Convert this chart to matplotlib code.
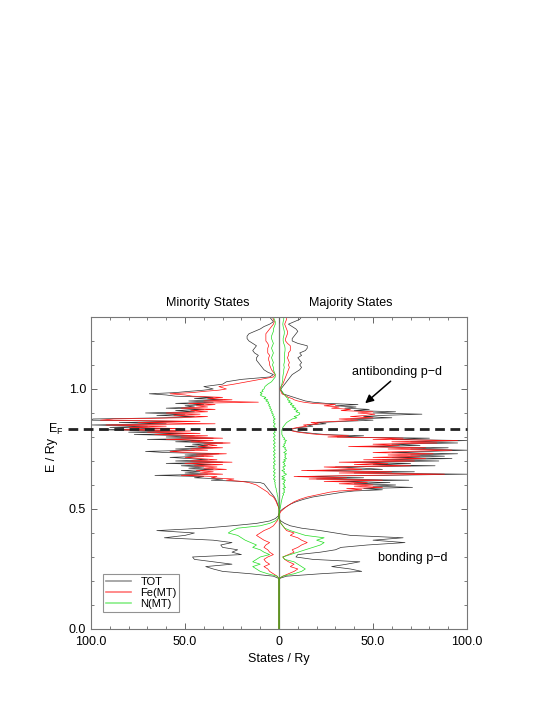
import numpy as np
import matplotlib
matplotlib.use("Agg")
import matplotlib.pyplot as plt

plt.rcParams["font.family"] = ["Liberation Sans", "DejaVu Sans"]

# === Energy grid (Ry): coarse below / above the d band, fine inside it ===
E = np.round(np.concatenate([[0.0],
                             np.arange(0.20, 0.5551, 0.01),
                             np.arange(0.555, 0.9951, 0.005),
                             np.arange(1.00, 1.3001, 0.01)]), 3)

E_FERMI = 0.833

# === DOS values (states/Ry) ===
# majority (spin up), drawn to the right
tot_up = [
    0,
    0, 0, 4, 22, 44, 38, 28, 36, 43, 18,
    9, 10, 22, 30, 33, 47, 67, 50, 66, 38,
    30, 22, 12, 6, 3, 1, 0, 0, 0, 0.5,
    2, 4, 6, 9, 13, 18,
    # fine part 0.555 - 0.995
    22, 26, 30, 34, 40, 55, 45, 71, 50, 62,
    40, 59, 30, 69, 20, 45, 10, 56, 100, 40,
    72, 15, 55, 45, 30, 83, 50, 70, 40, 85,
    55, 92, 60, 88, 70, 95, 60, 80, 100, 70,
    90, 45, 75, 60, 95, 70, 100, 60, 80, 31,
    45, 25, 18, 12, 8, 6, 8, 12, 18, 15,
    25, 20, 35, 50, 38, 60, 45, 55, 76, 50,
    62, 40, 48, 35, 41, 30, 42, 25, 18, 14,
    12, 10, 8, 6, 4, 2, 2, 1.5, 1,
    # 1.00 - 1.30
    1, 2, 3, 4, 5, 6, 7, 9, 11, 12,
    11, 12, 11, 10, 12, 11, 14, 15, 15, 10,
    7, 7, 8, 9, 10, 9, 7, 5, 8, 11,
    12]
fe_up = [
    0,
    0, 0, 2, 5, 8, 10, 6, 8, 5, 3,
    2, 5, 8, 7, 10, 12, 15, 12, 10, 6,
    8, 4, 3, 2, 1, 0.5, 0, 0, 0.3, 1,
    2.5, 4, 6, 8, 11, 15,
    18, 21, 24, 27, 32, 44, 36, 55, 40, 50,
    32, 47, 24, 55, 16, 36, 8, 45, 88, 32,
    60, 12, 44, 36, 24, 70, 40, 58, 32, 72,
    45, 78, 50, 75, 58, 82, 50, 68, 92, 58,
    78, 37, 64, 50, 84, 60, 95, 50, 66, 26,
    37, 21, 15, 10, 7, 6, 7, 10, 15, 13,
    21, 17, 30, 42, 32, 50, 38, 46, 51, 42,
    50, 33, 38, 28, 32, 24, 30, 18, 13, 10,
    8, 7, 5, 4, 3, 1.5, 1.5, 1, 0.8,
    0.5, 1, 2, 2.5, 3, 3.5, 4, 4.5, 5, 5.5,
    5, 5.5, 5, 4.5, 5, 5, 6, 6, 6, 4.5,
    3.5, 3.5, 4, 4.5, 4.5, 4, 3.5, 3, 3.5, 4,
    4]
n_up = [
    0,
    0, 0, 2, 8, 12, 14, 12, 10, 8, 3,
    2, 6, 10, 14, 18, 22, 24, 20, 24, 14,
    10, 6, 3, 2, 1, 0.5, 0, 0, 0, 0.3,
    0.5, 0.8, 1, 1.2, 1.5, 1.8,
    2, 2.5, 2, 3, 2.5, 3, 2, 3.5, 2.5, 3,
    2, 3, 2.5, 3.5, 1.5, 3, 1.5, 3, 4, 2.5,
    3, 1.5, 3, 2.5, 2, 3.5, 2.5, 3, 2, 3.5,
    2.5, 4, 3, 3.5, 3, 4, 2.5, 3.5, 4, 3,
    3.5, 2, 3, 2.5, 3.5, 3, 4, 2.5, 3, 2,
    2, 1.5, 1.5, 1.5, 1.5, 1.5, 2, 2, 2.5, 3,
    3.5, 4, 5, 6, 7, 9.5, 8, 10, 11, 11,
    9, 10, 8, 9, 7, 8, 6, 7, 5, 6,
    4.5, 5, 4, 3.5, 3, 2.5, 2, 1.5, 1,
    1, 1.2, 1.5, 1.8, 2, 2, 2.2, 2.5, 2.5, 2.8,
    2.5, 2.8, 3, 2.8, 3, 3, 3.2, 3.2, 3, 2.5,
    2.2, 2.2, 2.5, 2.8, 2.8, 2.5, 2.2, 2, 2.2, 2.5,
    2.5]

# minority (spin down), drawn to the left
tot_dn = [
    0,
    0, 0, 3, 15, 30, 35, 39, 25, 35, 45,
    46, 20, 25, 22, 30, 31, 25, 35, 61, 50,
    45, 65, 40, 25, 12, 5, 2, 0.5, 0, 0,
    0, 0.3, 0.8, 1.2, 1.8, 2.5,
    3, 3.5, 4, 4.5, 5, 5.5, 6, 6.5, 7, 7.5,
    8, 10, 20, 36, 30, 45, 40, 66, 38, 50,
    42, 52, 35, 48, 40, 52, 36, 60, 30, 55,
    38, 48, 58, 40, 50, 32, 60, 71, 45, 55,
    35, 50, 38, 46, 30, 55, 40, 70, 35, 60,
    45, 77, 50, 80, 55, 95, 60, 90, 70, 100,
    60, 85, 50, 100, 99, 60, 45, 65, 50, 71,
    45, 55, 40, 60, 45, 50, 40, 55, 35, 48,
    30, 45, 35, 55, 60, 69, 55, 48, 40,
    35, 40, 30, 28, 20, 5, 3, 6, 8, 9,
    10, 11, 12, 12, 11, 13, 14, 13, 12, 14,
    16, 17, 17, 16, 13, 10, 8, 5, 3, 4,
    5]
fe_dn = [
    0,
    0, 0, 1, 3, 5, 6, 8, 5, 7, 8,
    6, 3, 5, 6, 8, 7, 5, 8, 10, 12,
    10, 8, 5, 3, 2, 1, 0.5, 0.2, 0, 0,
    0, 0.4, 1, 1.5, 2.2, 3,
    4, 5, 5.5, 6, 7, 8, 9, 10, 11, 12,
    14, 16, 20, 28, 24, 36, 33, 52, 30, 42,
    35, 44, 28, 40, 33, 45, 30, 50, 25, 47,
    33, 42, 50, 35, 44, 28, 50, 58, 38, 47,
    30, 43, 33, 40, 26, 47, 35, 60, 30, 52,
    38, 66, 42, 70, 47, 85, 52, 80, 60, 92,
    34, 75, 42, 95, 88, 52, 38, 56, 42, 60,
    38, 47, 34, 52, 38, 44, 34, 48, 11, 40,
    25, 38, 30, 46, 50, 58, 46, 40, 32,
    28, 32, 24, 17, 10, 3, 2, 3, 4, 4.5,
    5, 5, 5.5, 5.5, 5, 6, 6, 6, 5.5, 6,
    7, 7, 7, 7, 6, 5, 4, 3, 2.5, 3,
    3.5]
n_dn = [
    0,
    0, 0, 1, 6, 10, 12, 14, 10, 14, 12,
    10, 5, 8, 10, 14, 12, 15, 18, 20, 22,
    27, 25, 22, 10, 5, 2, 0.5, 0, 0, 0,
    0, 0.1, 0.2, 0.4, 0.5, 0.6,
    0.8, 1, 1, 1.2, 1.3, 1.5, 1.5, 1.8, 2, 2,
    2.2, 2, 2.5, 2, 3, 2.5, 2, 3, 2.5, 2,
    3, 2.5, 2, 3, 2.5, 3, 2, 2.5, 3, 2,
    2.5, 3, 2, 2.5, 3, 2, 2.5, 3, 2, 2.5,
    3, 2, 2.5, 3, 2, 2.5, 3, 2, 2.5, 3,
    2, 2.5, 3, 2, 2.5, 3, 2.5, 2, 3, 2.5,
    2, 3, 2.5, 3, 2, 3, 2.5, 3.5, 3, 4,
    3.5, 4.5, 4, 5, 4.5, 5.5, 5, 6, 5.5, 7,
    6, 8, 7, 9, 10, 9, 10, 8.5, 9,
    8, 7.5, 6, 4, 3, 2, 2, 2.5, 3, 3,
    3.5, 3, 3.5, 4, 3.5, 3, 3.5, 4, 3.5, 3,
    3.5, 4, 4, 3.5, 3, 3, 2.5, 2, 2, 2.5,
    3]

series = [("TOT", tot_up, tot_dn, "#333333"),
          ("Fe(MT)", fe_up, fe_dn, "#ff1010"),
          ("N(MT)", n_up, n_dn, "#22dd22")]

fig = plt.figure(figsize=(5.47, 7.08), dpi=100)
ax = fig.add_axes([0.1664, 0.1116, 0.6874, 0.4407])

# zero line sits under the curves (green N curve covers it below the bands)
ax.axvline(0, color="#777777", lw=0.9, zorder=1)

for name, up, dn, col in series:
    ax.plot(np.asarray(up), E, color=col, lw=0.5, label=name, zorder=2)
    ax.plot(-np.asarray(dn), E, color=col, lw=0.5, zorder=2)

# Fermi level, running out past the left spine
ax.plot([-112, 100], [E_FERMI, E_FERMI], color="#222222", lw=2,
        dashes=(3.5, 2), clip_on=False, zorder=5)
ax.text(-114.5, E_FERMI, "E$_\\mathregular{F}$", ha="right", va="center",
        fontsize=9)

ax.set_xlim(-100, 100)
ax.set_ylim(0, 1.3)
ax.set_xticks([-100, -50, 0, 50, 100])
ax.set_xticklabels(["100.0", "50.0", "0", "50.0", "100.0"])
ax.set_xticks(np.arange(-100, 101, 10), minor=True)
ax.set_yticks([0, 0.5, 1.0])
ax.set_yticklabels(["0.0", "0.5", "1.0"])
ax.set_yticks(np.arange(0, 1.31, 0.1), minor=True)
ax.tick_params(which="both", direction="in", top=True, right=True,
               labelsize=9, color="#666666")
ax.tick_params(axis="x", pad=5)
ax.tick_params(which="major", length=4, width=0.7)
ax.tick_params(which="minor", length=2.5, width=0.6)
for s in ax.spines.values():
    s.set_color("#777777")
    s.set_linewidth(0.8)

ax.set_xlabel("States / Ry", fontsize=9, labelpad=4)
ax.set_ylabel("E / Ry", fontsize=9)
ax.yaxis.set_label_coords(-0.088, 0.558)

ax.text(-38, 1.36, "Minority States", ha="center", va="center", fontsize=9)
ax.text(38, 1.36, "Majority States", ha="center", va="center", fontsize=9)

ax.text(63, 1.07, "antibonding p\u2212d", ha="center", va="center", fontsize=9)
ax.annotate("", xy=(44.7, 0.933), xytext=(60.5, 1.04),
            arrowprops=dict(arrowstyle="-|>", color="black", lw=1.1,
                            mutation_scale=12))
ax.text(71, 0.296, "bonding p\u2212d", ha="center", va="center", fontsize=9)

leg = ax.legend(loc="lower left", bbox_to_anchor=(0.032, 0.054),
                fontsize=8, frameon=True, fancybox=False,
                handlelength=2.3, borderpad=0.25, labelspacing=0.1,
                handletextpad=0.8, borderaxespad=0)
leg.get_frame().set_edgecolor("#777777")
leg.get_frame().set_linewidth(0.8)
for ln, c in zip(leg.get_lines(), ["#999999", "#ff7777", "#88ee88"]):
    ln.set_color(c)
    ln.set_linewidth(1.2)

fig.savefig("out.png", dpi=100)
